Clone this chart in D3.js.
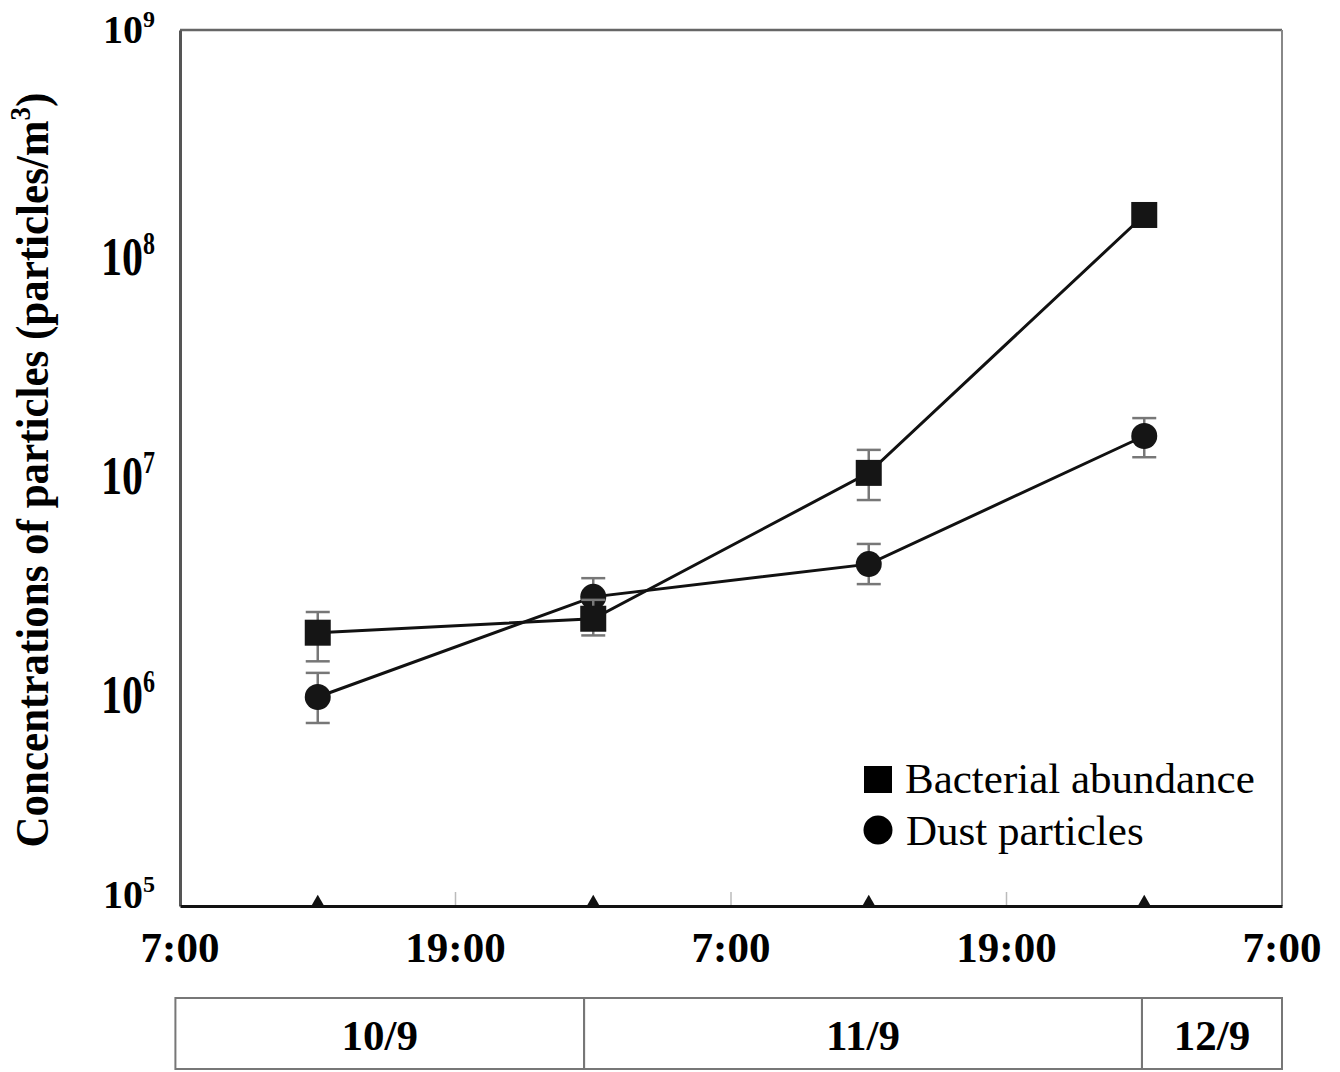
<!DOCTYPE html>
<html>
<head>
<meta charset="utf-8">
<script src="https://cdn.jsdelivr.net/npm/d3@7"></script>
<style>
  body { margin: 0; background: #fff; }
  text { font-family: "Liberation Serif", "Times New Roman", serif; }
</style>
</head>
<body>
<div class="chart"></div>
<script>
// hours after 7:00 on 10/9
const sampleHours = [6, 18, 30, 42]
const bacteria = [1.77e6, 2.05e6, 9.5e6, 1.43e8]
const bacteriaHi = [2.2e6, 2.5e6, 1.21e7, null]
const bacteriaLo = [1.31e6, 1.72e6, 7.14e6, null]
const dust = [9.0e5, 2.58e6, 3.64e6, 1.40e7]
const dustHi = [1.16e6, 3.14e6, 4.5e6, 1.69e7]
const dustLo = [6.85e5, 2.1e6, 2.95e6, 1.12e7]
const xTicks = [0, 12, 24, 36, 48]
const xTickLabels = ["7:00", "19:00", "7:00", "19:00", "7:00"]
const yTicks = [1e5, 1e6, 1e7, 1e8, 1e9]
const dayLabels = ["10/9", "11/9", "12/9"]
const dayBounds = [-0.2, 17.6, 41.9, 48]

const margin = {top: 30, right: 58, bottom: 166, left: 180}
const W = 1340, H = 1072
const width = W - margin.left - margin.right
const height = H - margin.top - margin.bottom

const svg = d3.select(".chart").append("svg")
    .attr("width", W).attr("height", H)
const g = svg.append("g")
    .attr("transform", "translate(" + margin.left + "," + margin.top + ")")

const x = d3.scaleLinear().domain([0, 48]).range([0, width])
const y = d3.scaleLog().domain([1e5, 1e9]).range([height, 0])

// frame: top/right grey, left darker, bottom black
g.append("line").attr("x1", 0).attr("x2", width).attr("y1", 0).attr("y2", 0)
    .attr("stroke", "#666").attr("stroke-width", 2.5)
g.append("line").attr("x1", width).attr("x2", width).attr("y1", 0).attr("y2", height)
    .attr("stroke", "#888").attr("stroke-width", 2)

// faint inner ticks
g.selectAll(".xminor").data(xTicks.slice(1, -1)).enter().append("line")
    .attr("x1", d => x(d)).attr("x2", d => x(d))
    .attr("y1", height).attr("y2", height - 14)
    .attr("stroke", "#bbb").attr("stroke-width", 1.5)

const yAxis = d3.axisLeft(y).tickValues(yTicks).tickSize(0).tickFormat("")
g.append("g").call(yAxis)
    .call(a => a.select(".domain").attr("stroke", "#555").attr("stroke-width", 3))

const xAxis = d3.axisBottom(x).tickValues(xTicks).tickSize(0).tickFormat("")
g.append("g").attr("transform", "translate(0," + height + ")").call(xAxis)
    .call(a => a.select(".domain").attr("stroke", "#111").attr("stroke-width", 3))

// y tick labels 10^n; the inner ones are drawn taller in the original
yTicks.forEach((v, i) => {
  const end = i === 0 || i === yTicks.length - 1
  const sy = end ? 1 : 1.3
  const dy = i === 0 ? 2 : (end ? 13 : 20)
  const t = g.append("text")
      .attr("transform", "translate(-25," + y(v) + ") scale(1," + sy + ")")
      .attr("y", dy)
      .attr("text-anchor", "end")
      .attr("font-weight", "bold").attr("font-size", end ? 40 : 42)
  t.append("tspan").text("10")
  t.append("tspan").attr("dy", -16).attr("font-size", 24)
      .text(Math.round(Math.log10(v)))
})

// x tick labels
g.selectAll(".xlab").data(xTicks).enter().append("text")
    .attr("x", d => x(d)).attr("y", height + 56)
    .attr("text-anchor", "middle")
    .attr("font-weight", "bold").attr("font-size", 43)
    .text((d, i) => xTickLabels[i])

// sample time markers on the axis
g.selectAll(".tri").data(sampleHours).enter().append("path")
    .attr("d", d3.symbol(d3.symbolTriangle, 90))
    .attr("transform", d => "translate(" + x(d) + "," + (height - 3) + ")")
    .attr("fill", "#111")

// y axis title
svg.append("text")
    .attr("transform", "translate(48," + (margin.top + height / 2 + 2) + ") rotate(-90) scale(1,1.1)")
    .attr("text-anchor", "middle")
    .attr("font-weight", "bold").attr("font-size", 43)
    .call(t => {
      t.append("tspan").text("Concentrations of particles (particles/m")
      t.append("tspan").attr("dy", -16).attr("font-size", 27).text("3")
      t.append("tspan").attr("dy", 16).text(")")
    })

function drawSeries(vals, hi, lo, shape) {
  const pts = sampleHours.map((h, i) => ({h: h, v: vals[i], hi: hi[i], lo: lo[i]}))
  const line = d3.line().x(d => x(d.h)).y(d => y(d.v))
  const eb = pts.filter(d => d.hi != null)
  const gg = g.append("g").attr("stroke", "#777").attr("stroke-width", 2.5)
  eb.forEach(d => {
    gg.append("line").attr("x1", x(d.h)).attr("x2", x(d.h))
        .attr("y1", y(d.hi)).attr("y2", y(d.lo))
    gg.append("line").attr("x1", x(d.h) - 12).attr("x2", x(d.h) + 12)
        .attr("y1", y(d.hi)).attr("y2", y(d.hi))
    gg.append("line").attr("x1", x(d.h) - 12).attr("x2", x(d.h) + 12)
        .attr("y1", y(d.lo)).attr("y2", y(d.lo))
  })
  g.append("path").datum(pts).attr("d", line)
      .attr("fill", "none").attr("stroke", "#111").attr("stroke-width", 3)
  if (shape === "square") {
    g.selectAll(null).data(pts).enter().append("rect")
        .attr("x", d => x(d.h) - 13).attr("y", d => y(d.v) - 13)
        .attr("width", 26).attr("height", 26).attr("fill", "#151515")
  } else {
    g.selectAll(null).data(pts).enter().append("circle")
        .attr("cx", d => x(d.h)).attr("cy", d => y(d.v))
        .attr("r", 13).attr("fill", "#151515")
  }
}
drawSeries(dust, dustHi, dustLo, "circle")
drawSeries(bacteria, bacteriaHi, bacteriaLo, "square")

// legend
const leg = svg.append("g")
leg.append("rect").attr("x", 864).attr("y", 766).attr("width", 28).attr("height", 27).attr("fill", "#000")
leg.append("text").attr("x", 905).attr("y", 793).attr("font-size", 43).text("Bacterial abundance")
leg.append("circle").attr("cx", 878).attr("cy", 830).attr("r", 14.5).attr("fill", "#000")
leg.append("text").attr("x", 906).attr("y", 845).attr("font-size", 43).text("Dust particles")

// date table under the axis
const tb = svg.append("g")
const boxTop = 998, boxH = 71
tb.selectAll(".cell").data(dayLabels).enter().append("rect")
    .attr("x", (d, i) => margin.left + x(dayBounds[i]))
    .attr("y", boxTop)
    .attr("width", (d, i) => x(dayBounds[i + 1]) - x(dayBounds[i]))
    .attr("height", boxH)
    .attr("fill", "none").attr("stroke", "#777").attr("stroke-width", 2)
tb.selectAll(".dlab").data(dayLabels).enter().append("text")
    .attr("x", (d, i) => margin.left + (x(dayBounds[i]) + x(dayBounds[i + 1])) / 2)
    .attr("y", boxTop + 52)
    .attr("text-anchor", "middle")
    .attr("font-weight", "bold").attr("font-size", 43)
    .text(d => d)
</script>
</body>
</html>
